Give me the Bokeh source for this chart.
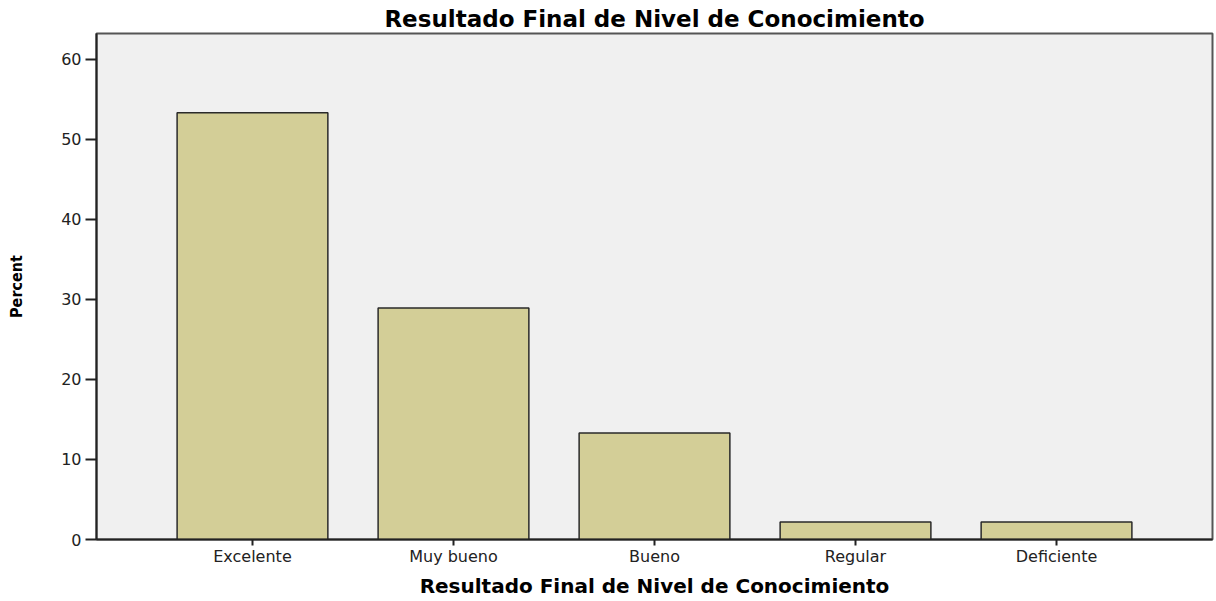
from bokeh.plotting import figure
from bokeh.models import Range1d, FixedTicker, Title
from bokeh.embed import file_html
from bokeh.resources import INLINE

categories = ["Excelente", "Muy bueno", "Bueno", "Regular", "Deficiente"]
percent = [53.3, 28.9, 13.3, 2.2, 2.2]
y_ticks = [0, 10, 20, 30, 40, 50, 60]
title_text = "Resultado Final de Nivel de Conocimiento"
x_label = "Resultado Final de Nivel de Conocimiento"
y_label = "Percent"

xs = list(range(len(categories)))

W, H = 1214, 600
FL, FR, FT, FB = 96, 1212, 33, 544  # frame edges on the canvas

p = figure(width=W, height=H, output_backend="svg", toolbar_location=None,
           x_range=Range1d(-0.776, len(categories) - 1 + 0.776),
           y_range=Range1d(0, 63.2),
           min_border_left=FL, min_border_right=W - FR, min_border_top=FT,
           min_border_bottom=H - FB)

p.title = Title(text=title_text, align="center", offset=-51, standoff=4,
                text_font="DejaVu Sans", text_font_size="23px",
                text_font_style="bold", text_color="#000000")

p.background_fill_color = "#f0f0f0"
p.border_fill_color = "#ffffff"
p.outline_line_color = "#555555"
p.outline_line_width = 2
p.grid.visible = False

p.vbar(x=xs, top=percent, width=0.75, bottom=0, fill_color="#d3ce97",
       line_color="#2a2a2a", line_width=1.5)

p.xaxis.ticker = FixedTicker(ticks=xs)
p.xaxis.major_label_overrides = {i: c for i, c in zip(xs, categories)}
p.xaxis.minor_tick_line_color = None
p.xaxis.major_tick_out = 6
p.xaxis.major_tick_in = 0
p.xaxis.major_tick_line_width = 2
p.xaxis.major_tick_line_color = "#222222"
p.xaxis.axis_line_color = "#222222"
p.xaxis.axis_line_width = 2
p.xaxis.major_label_text_font = "DejaVu Sans"
p.xaxis.major_label_text_font_size = "16px"
p.xaxis.major_label_text_color = "#222222"
p.xaxis.major_label_standoff = 1
p.xaxis.axis_label = x_label
p.xaxis.axis_label_text_font = "DejaVu Sans"
p.xaxis.axis_label_text_font_size = "20px"
p.xaxis.axis_label_text_font_style = "bold"
p.xaxis.axis_label_text_color = "#000000"
p.xaxis.axis_label_standoff = 5

p.yaxis.ticker = FixedTicker(ticks=y_ticks)
p.yaxis.minor_tick_line_color = None
p.yaxis.major_tick_out = 11
p.yaxis.major_tick_in = 0
p.yaxis.major_tick_line_width = 2
p.yaxis.major_tick_line_color = "#222222"
p.yaxis.axis_line_color = "#222222"
p.yaxis.axis_line_width = 2
p.yaxis.major_label_text_font = "DejaVu Sans"
p.yaxis.major_label_text_font_size = "16px"
p.yaxis.major_label_text_color = "#222222"
p.yaxis.major_label_standoff = 4
p.yaxis.axis_label = y_label
p.yaxis.axis_label_text_font = "DejaVu Sans Condensed"
p.yaxis.axis_label_text_font_size = "16px"
p.yaxis.axis_label_text_font_style = "bold"
p.yaxis.axis_label_text_color = "#000000"
p.yaxis.axis_label_standoff = 32

open("out.html", "w").write(file_html(p, INLINE))
